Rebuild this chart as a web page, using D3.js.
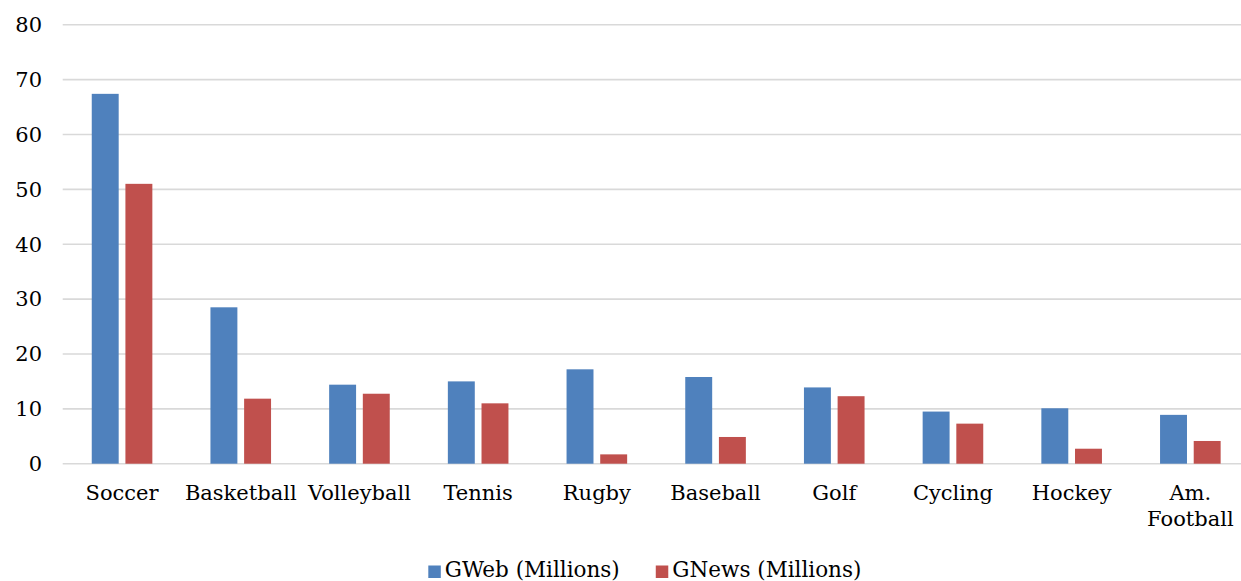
<!DOCTYPE html>
<html>
<head>
<meta charset="utf-8">
<script src="https://cdn.jsdelivr.net/npm/d3@7"></script>
<style>
  body { margin: 0; background: #fff; }
  svg text { font-family: "DejaVu Serif", "Liberation Serif", serif; fill: #000; }
</style>
</head>
<body>
<div id="chart"></div>
<script>
// chart data
const categories = ['Soccer', 'Basketball', 'Volleyball', 'Tennis', 'Rugby', 'Baseball', 'Golf', 'Cycling', 'Hockey', 'Am. Football'];
const seriesNames = ['GWeb (Millions)', 'GNews (Millions)'];
const gweb = [67.4, 28.5, 14.4, 15.0, 17.2, 15.8, 13.9, 9.5, 10.1, 8.9];
const gnews = [51.0, 11.85, 12.75, 11.0, 1.7, 4.87, 12.3, 7.3, 2.73, 4.14];
const yTicks = [0, 10, 20, 30, 40, 50, 60, 70, 80];

const colors = { 'GWeb (Millions)': '#4F81BD', 'GNews (Millions)': '#C0504D' };

const svgWidth = 1241, svgHeight = 581;
// plot runs past the right edge, as in the cropped original
const margin = { top: 24.7, left: 62.7 };
const plotWidth = 1187;
const plotHeight = 439;

const svg = d3.select('#chart').append('svg')
  .attr('width', svgWidth)
  .attr('height', svgHeight);

const x0 = d3.scaleBand().domain(categories).range([margin.left, margin.left + plotWidth]);
const x1 = d3.scaleBand().domain(seriesNames).range([-30.3, 30.3]).paddingInner(0.2);
const y = d3.scaleLinear().domain([0, 80]).range([margin.top + plotHeight, margin.top]);

// grid lines
svg.append('g')
  .selectAll('line')
  .data(yTicks)
  .enter()
  .append('line')
  .attr('x1', margin.left)
  .attr('x2', margin.left + plotWidth)
  .attr('y1', d => y(d))
  .attr('y2', d => y(d))
  .attr('stroke', '#D9D9D9')
  .attr('stroke-width', 1.6);

// y labels
svg.append('g')
  .selectAll('text')
  .data(yTicks)
  .enter()
  .append('text')
  .attr('x', 42)
  .attr('y', d => y(d))
  .attr('dy', '0.35em')
  .attr('text-anchor', 'end')
  .attr('font-size', '21px')
  .text(d => d);

// bars
const rows = categories.map((c, i) => ({ cat: c, values: [gweb[i], gnews[i]] }));

const groups = svg.append('g')
  .selectAll('g')
  .data(rows)
  .enter()
  .append('g')
  .attr('transform', d => `translate(${x0(d.cat) + x0.bandwidth() / 2}, 0)`);

groups.selectAll('rect')
  .data(d => d.values.map((v, j) => ({ name: seriesNames[j], value: v })))
  .enter()
  .append('rect')
  .attr('x', d => x1(d.name))
  .attr('width', x1.bandwidth())
  .attr('y', d => y(d.value))
  .attr('height', d => y(0) - y(d.value))
  .attr('fill', d => colors[d.name]);

// category labels, wrapped to band width
const catLabels = svg.append('g')
  .selectAll('text')
  .data(categories)
  .enter()
  .append('text')
  .attr('x', d => x0(d) + x0.bandwidth() / 2)
  .attr('y', 500)
  .attr('text-anchor', 'middle')
  .attr('font-size', '21px')
  .text(d => d);

catLabels.each(function (d) {
  const t = d3.select(this);
  if (this.getComputedTextLength() <= x0.bandwidth()) return;
  const words = d.split(' ');
  const cx = t.attr('x');
  t.text(null);
  words.forEach((w, k) => {
    t.append('tspan').attr('x', cx).attr('dy', k === 0 ? 0 : 26).text(w);
  });
});

// legend
const legend = svg.append('g').attr('transform', 'translate(428.3, 0)');
let lx = 0;
seriesNames.forEach((name, i) => {
  const item = legend.append('g').attr('transform', `translate(${lx}, 0)`);
  item.append('rect')
    .attr('x', 0)
    .attr('y', 565.5)
    .attr('width', 12.5)
    .attr('height', 12.5)
    .attr('fill', colors[name]);
  const txt = item.append('text')
    .attr('x', 16.5)
    .attr('y', 577)
    .attr('font-size', '21.5px')
    .text(name);
  lx += 16.5 + txt.node().getComputedTextLength() + 36;
});
</script>
</body>
</html>
